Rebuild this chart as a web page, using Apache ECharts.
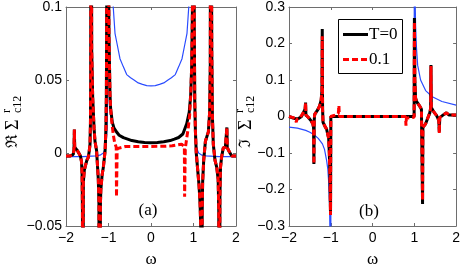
<!DOCTYPE html>
<html><head><meta charset="utf-8">
<script src="https://cdn.jsdelivr.net/npm/echarts@6/dist/echarts.min.js"></script>
<style>html,body{margin:0;padding:0;background:#fff}#c{width:463px;height:273px}</style>
</head><body><div id="c"></div>
<script>
// ---------- Panel (a): Re Sigma^r_c12 ----------
const reOmegaT0 = [-2.00,-1.90,-1.83,-1.812,-1.803,-1.795,-1.78,-1.74,-1.70,-1.66,-1.635,-1.622,-1.613,-1.607,-1.600,-1.592,-1.57,-1.55,-1.51,-1.475,-1.45,-1.435,-1.425,-1.418,-1.412,-1.402,-1.395,-1.372,-1.34,-1.318,-1.28,-1.24,-1.225,-1.214,-1.202,-1.19,-1.18,-1.15,-1.12,-1.08,-1.06,-1.05,-1.042,-1.035,-0.998,-0.988,-0.965,-0.949,-0.91,-0.87,-0.80,-0.75,-0.65,-0.55,-0.45,-0.30,-0.15,0.00,0.15,0.30,0.45,0.55,0.65,0.75,0.84,0.90,0.935,0.958,0.975,0.985,1.012,1.02,1.03,1.045,1.065,1.10,1.13,1.155,1.17,1.182,1.196,1.205,1.215,1.24,1.28,1.35,1.38,1.395,1.405,1.422,1.43,1.445,1.466,1.506,1.546,1.58,1.595,1.603,1.613,1.622,1.635,1.66,1.70,1.75,1.778,1.786,1.794,1.82,1.86,1.90,2.00];
const reT0 = [-0.002,-0.002,-0.001,0.002,0.016,0.004,0.003,0.002,0.000,-0.002,-0.006,-0.014,-0.04,-0.3,-0.3,-0.02,-0.012,-0.0095,-0.005,-0.003,0.002,0.006,0.02,0.05,0.3,0.3,0.07,0.038,0.017,0.008,0.0015,-0.018,-0.035,-0.3,-0.3,-0.035,-0.025,-0.015,-0.0095,0.0015,0.017,0.04,0.1,0.3,0.3,0.08,0.04,0.03,0.021,0.017,0.014,0.0122,0.0105,0.0095,0.0085,0.0077,0.0072,0.007,0.0072,0.0077,0.0085,0.0095,0.0106,0.013,0.02,0.028,0.04,0.06,0.1,0.3,0.3,0.08,0.035,0.015,0.0,-0.012,-0.022,-0.035,-0.05,-0.3,-0.3,-0.04,-0.02,-0.005,0.008,0.0145,0.028,0.06,0.3,0.3,0.07,0.025,0.006,-0.005,-0.0096,-0.018,-0.04,-0.3,-0.3,-0.03,-0.01,-0.003,0.0035,0.004,0.005,0.0175,0.004,0.002,0.0,-0.002,-0.002];
const reOmegaT01 = [-2.00,-1.90,-1.83,-1.812,-1.803,-1.795,-1.78,-1.74,-1.70,-1.66,-1.635,-1.622,-1.613,-1.607,-1.600,-1.592,-1.57,-1.55,-1.51,-1.475,-1.45,-1.435,-1.425,-1.418,-1.412,-1.402,-1.395,-1.372,-1.34,-1.318,-1.28,-1.24,-1.225,-1.214,-1.202,-1.19,-1.18,-1.15,-1.12,-1.08,-1.06,-1.05,-1.042,-1.035,-0.998,-0.988,-0.965,-0.949,-0.925,-0.89,-0.855,-0.818,-0.812,-0.802,-0.796,-0.78,-0.60,-0.30,0.00,0.30,0.50,0.62,0.72,0.785,0.791,0.801,0.807,0.84,0.88,0.91,0.935,0.958,0.975,0.985,1.012,1.02,1.03,1.045,1.065,1.10,1.13,1.155,1.17,1.182,1.196,1.205,1.215,1.24,1.28,1.35,1.38,1.395,1.405,1.422,1.43,1.445,1.466,1.506,1.546,1.58,1.595,1.603,1.613,1.622,1.635,1.66,1.70,1.75,1.778,1.786,1.794,1.82,1.86,1.90,2.00];
const reT01 = [-0.002,-0.002,-0.001,0.002,0.016,0.004,0.003,0.002,0.000,-0.002,-0.006,-0.014,-0.04,-0.3,-0.3,-0.02,-0.012,-0.0095,-0.005,-0.003,0.002,0.006,0.02,0.05,0.3,0.3,0.07,0.038,0.017,0.008,0.0015,-0.018,-0.035,-0.3,-0.3,-0.035,-0.025,-0.015,-0.0095,0.0015,0.017,0.04,0.1,0.3,0.3,0.08,0.04,0.03,0.022,0.013,0.007,0.004,-0.03,-0.03,0.003,0.0042,0.0045,0.0045,0.0045,0.0046,0.0049,0.0055,0.006,0.0045,-0.03,-0.03,0.003,0.010,0.018,0.026,0.04,0.06,0.1,0.3,0.3,0.08,0.035,0.015,0.0,-0.012,-0.022,-0.035,-0.05,-0.3,-0.3,-0.04,-0.02,-0.005,0.008,0.0145,0.028,0.06,0.3,0.3,0.07,0.025,0.006,-0.005,-0.0096,-0.018,-0.04,-0.3,-0.3,-0.03,-0.01,-0.003,0.0035,0.004,0.005,0.0175,0.004,0.002,0.0,-0.002,-0.002];
const reOmegaRef = [-2.00,-1.60,-1.30,-1.20,-1.12,-1.08,-1.06,-1.045,-1.035,-1.02,-1.008,-1.00,-0.99,-0.95,-0.90,-0.847,-0.80,-0.73,-0.65,-0.572,-0.48,-0.40,-0.30,-0.20,-0.10,0.00,0.10,0.20,0.30,0.40,0.48,0.572,0.65,0.73,0.80,0.847,0.90,0.95,0.99,1.00,1.008,1.02,1.035,1.045,1.06,1.08,1.12,1.20,1.30,1.60,2.00];
const reRef = [-0.0025,-0.0025,-0.002,-0.0015,0.0,0.003,0.006,0.011,0.017,0.035,0.08,0.3,0.3,0.147,0.105,0.082,0.075,0.0646,0.059,0.0537,0.0515,0.050,0.048,0.047,0.0462,0.046,0.0462,0.047,0.048,0.050,0.0515,0.0537,0.059,0.0646,0.075,0.082,0.105,0.147,0.3,0.3,0.08,0.035,0.017,0.011,0.006,0.003,0.0,-0.0015,-0.002,-0.0025,-0.0025];

// ---------- Panel (b): Im Sigma^r_c12 ----------
const imOmegaT0 = [-2.00,-1.90,-1.85,-1.82,-1.78,-1.74,-1.70,-1.66,-1.615,-1.603,-1.595,-1.58,-1.54,-1.50,-1.47,-1.43,-1.412,-1.404,-1.396,-1.385,-1.31,-1.27,-1.23,-1.212,-1.204,-1.196,-1.185,-1.13,-1.10,-1.05,-1.035,-1.02,-1.006,-0.998,0.995,1.002,1.012,1.03,1.06,1.12,1.17,1.19,1.197,1.205,1.23,1.27,1.32,1.37,1.39,1.398,1.406,1.47,1.53,1.585,1.598,1.608,1.70,1.77,1.80,1.83,2.00];
const imT0 = [0.000,-0.004,-0.006,-0.009,-0.006,-0.004,0.000,0.010,0.02,0.038,0.004,0.006,-0.002,-0.006,-0.012,-0.02,-0.03,-0.13,-0.01,0.006,0.019,0.028,0.045,0.07,0.24,0.02,-0.016,-0.029,-0.035,-0.06,-0.1,-0.16,-0.27,0.0,0.0,0.27,0.1,0.05,0.04,0.03,0.02,0.015,-0.24,-0.03,-0.033,-0.02,-0.005,0.01,0.022,0.141,0.025,0.012,0.003,-0.01,-0.042,-0.003,0.005,0.01,0.015,0.004,0.004];
const imOmegaT01 = [-2.00,-1.90,-1.85,-1.825,-1.815,-1.78,-1.74,-1.70,-1.66,-1.615,-1.603,-1.595,-1.58,-1.54,-1.50,-1.47,-1.43,-1.412,-1.404,-1.396,-1.385,-1.31,-1.27,-1.23,-1.212,-1.204,-1.196,-1.185,-1.13,-1.10,-1.05,-1.035,-1.02,-1.006,-0.998,-0.97,-0.90,-0.82,-0.805,-0.795,-0.70,0.70,0.79,0.80,0.81,0.90,0.995,1.002,1.012,1.03,1.06,1.12,1.17,1.19,1.197,1.205,1.23,1.27,1.32,1.37,1.39,1.398,1.406,1.47,1.53,1.585,1.598,1.608,1.70,1.77,1.80,1.83,2.00];
const imT01 = [0.000,-0.003,-0.006,-0.016,-0.008,-0.006,-0.004,0.000,0.010,0.02,0.038,0.004,0.006,-0.002,-0.006,-0.012,-0.02,-0.03,-0.13,-0.01,0.006,0.019,0.028,0.045,0.07,0.22,0.02,-0.016,-0.029,-0.035,-0.06,-0.1,-0.16,-0.27,0.0,0.005,0.004,0.008,0.03,0.0,0.0,0.0,0.0,-0.025,-0.005,-0.003,-0.002,0.26,0.1,0.05,0.04,0.03,0.02,0.015,-0.23,-0.03,-0.033,-0.02,-0.005,0.01,0.022,0.138,0.025,0.012,0.003,-0.01,-0.046,-0.003,0.005,0.01,0.013,0.004,0.004];
const imOmegaRef = [-2.00,-1.80,-1.60,-1.50,-1.40,-1.30,-1.20,-1.15,-1.10,-1.07,-1.05,-1.03,-1.015,-1.002,-0.995,0.995,1.002,1.015,1.03,1.05,1.08,1.15,1.27,1.43,1.66,2.00];
const imRef = [-0.029,-0.032,-0.038,-0.043,-0.05,-0.06,-0.075,-0.09,-0.12,-0.145,-0.18,-0.24,-0.35,-0.6,0.0,0.0,0.6,0.35,0.25,0.19,0.14,0.1,0.071,0.054,0.041,0.031];

const legendNames = ['T=0', '0.1'];
const xTicks = {min: -2, max: 2, interval: 1};
const yTicksA = {min: -0.05, max: 0.1, interval: 0.05};
const yTicksB = {min: -0.3, max: 0.3, interval: 0.1};

function zip(xs, ys) { return xs.map((x, i) => [x, ys[i]]); }
function fmt(v) { return String(parseFloat(v.toFixed(3))).replace('-', '\u2212'); }

const axisColor = '#6e6e6e';
const tickFont = {fontFamily: '"Liberation Sans", Arial, sans-serif', fontSize: 14, color: '#000'};
const serif = '"Liberation Serif", "DejaVu Serif", serif';

function xAxes(gi) {
  const common = {gridIndex: gi, type: 'value', min: xTicks.min, max: xTicks.max, interval: xTicks.interval,
    splitLine: {show: false},
    axisLine: {onZero: false, lineStyle: {color: axisColor, width: 1}},
    axisTick: {inside: true, length: 3, lineStyle: {color: axisColor}}};
  return [
    Object.assign({}, common, {position: 'bottom', axisLabel: Object.assign({}, tickFont, {margin: 5, formatter: fmt}),
      name: 'ω', nameLocation: 'middle', nameGap: 25, nameTextStyle: {fontFamily: serif, fontSize: 17, color: '#000'}}),
    Object.assign({}, common, {position: 'top', axisLabel: {show: false}})
  ];
}
function yAxes(gi, t) {
  const common = {gridIndex: gi, type: 'value', min: t.min, max: t.max, interval: t.interval,
    splitLine: {show: false},
    axisLine: {onZero: false, lineStyle: {color: axisColor, width: 1}},
    axisTick: {inside: true, length: 3, lineStyle: {color: axisColor}}};
  return [
    Object.assign({}, common, {position: 'left', axisLabel: Object.assign({}, tickFont, {margin: 4, formatter: fmt})}),
    Object.assign({}, common, {position: 'right', axisLabel: {show: false}})
  ];
}
function lineSeries(name, xi, yi, data, color, width, type, z) {
  return {name: name, type: 'line', xAxisIndex: xi, yAxisIndex: yi, data: data,
    showSymbol: false, symbol: 'none', clip: true, z: z, silent: true,
    itemStyle: {color: color},
    lineStyle: {color: color, width: width, type: type}};
}
function txt(x, y, text, font, align) {
  return {type: 'text', x: x, y: y, silent: true, style: {text: text, font: font, fill: '#000',
    textAlign: align || 'left', textVerticalAlign: 'middle', align: align || 'left', verticalAlign: 'middle'}};
}
function yName(x, letter) {
  return {type: 'group', x: x, y: 148, rotation: Math.PI / 2, silent: true, children: [
    txt(0, 0, letter, '16px "DejaVu Serif", serif'),
    txt(18, 0, 'Σ', '18px ' + serif),
    txt(35, -6, 'r', '12px ' + serif),
    txt(35, 5, 'c12', '12px ' + serif)
  ]};
}
function legendBox() {
  return {type: 'group', silent: true, children: [
    {type: 'rect', shape: {x: 338.5, y: 19.5, width: 64, height: 54}, style: {fill: '#fff', stroke: '#000', lineWidth: 1}},
    {type: 'line', shape: {x1: 343, y1: 34.5, x2: 368, y2: 34.5}, style: {stroke: '#000', lineWidth: 3}},
    txt(369, 34.5, legendNames[0], '17px ' + serif),
    {type: 'line', shape: {x1: 343, y1: 59.5, x2: 368, y2: 59.5}, style: {stroke: '#ff0000', lineWidth: 3, lineDash: [6, 3]}},
    txt(369, 59.5, legendNames[1], '17px ' + serif)
  ]};
}

const chart = echarts.init(document.getElementById('c'), null, {renderer: 'canvas'});
chart.setOption({
  animation: false,
  backgroundColor: '#fff',
  grid: [
    {left: 66, top: 6, width: 170, height: 229},
    {left: 289, top: 6, width: 170, height: 229}
  ],
  xAxis: xAxes(0).concat(xAxes(1)),
  yAxis: yAxes(0, yTicksA).concat(yAxes(1, yTicksB)),
  series: [
    lineSeries('ref', 0, 0, zip(reOmegaRef, reRef), '#2a4cff', 1.2, 'solid', 2),
    lineSeries('T=0', 0, 0, zip(reOmegaT0, reT0), '#000', 3, 'solid', 3),
    lineSeries('0.1', 0, 0, zip(reOmegaT01, reT01), '#ff0000', 3, [6, 3], 4),
    lineSeries('ref', 2, 2, zip(imOmegaRef, imRef), '#2a4cff', 1.2, 'solid', 2),
    lineSeries('T=0', 2, 2, zip(imOmegaT0, imT0), '#000', 3, 'solid', 3),
    lineSeries('0.1', 2, 2, zip(imOmegaT01, imT01), '#ff0000', 3, [6, 3], 4)
  ],
  graphic: [
    txt(148, 211, '(a)', '17px ' + serif, 'center'),
    txt(369, 212, '(b)', '17px ' + serif, 'center'),
    yName(13, 'ℜ'),
    yName(246, 'ℑ'),
    legendBox()
  ]
});
</script>
</body></html>
